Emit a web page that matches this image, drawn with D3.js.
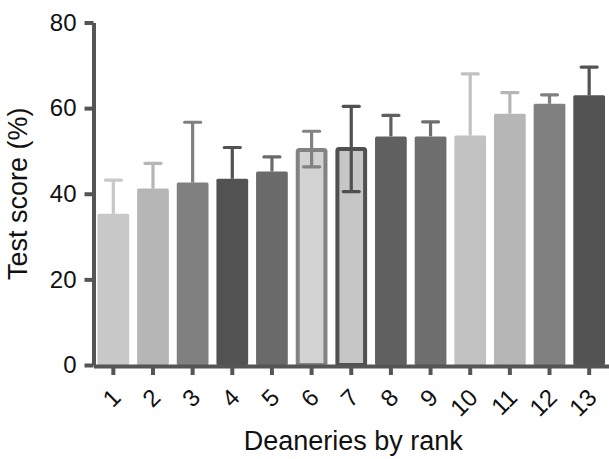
<!DOCTYPE html>
<html>
<head>
<meta charset="utf-8">
<script src="https://cdn.jsdelivr.net/npm/d3@7"></script>
<style>
  body { margin: 0; background: #fff; }
  svg { font-family: "Liberation Sans", Arial, sans-serif; }
</style>
</head>
<body>
<div id="chart"></div>
<script>
const width = 609,
    height = 459,
    margin = { top: 22.5, bottom: 94, left: 93.5, right: 0 };

// data
const ranks = ["1", "2", "3", "4", "5", "6", "7", "8", "9", "10", "11", "12", "13"];
const means = [35.3, 41.2, 42.6, 43.5, 45.2, 50.7, 50.9, 53.4, 53.4, 53.6, 58.7, 61.0, 63.0];
const errUp = [43.2, 47.1, 56.7, 50.8, 48.6, 54.6, 60.4, 58.3, 56.8, 68.0, 63.6, 63.1, 69.6];
const errDown = [null, null, null, null, null, 46.3, 40.5, null, null, null, null, null, null];
const fills = ["#c8c8c8", "#b6b6b6", "#808080", "#525252", "#6a6a6a", "#d2d2d2", "#c6c6c6",
    "#606060", "#6e6e6e", "#c2c2c2", "#b6b6b6", "#808080", "#535353"];
const strokes = [null, null, null, null, null, "#828282", "#505050", null, null, null, null, null, null];
const yTicks = [0, 20, 40, 60, 80];

const axisColor = "#555555";

const svg = d3.select("#chart")
    .append("svg")
    .attr("width", width)
    .attr("height", height);

const x = d3.scaleBand()
    .domain(ranks)
    .range([margin.left, width - margin.right])
    .paddingInner(0.2)
    .paddingOuter(0.1);

const y = d3.scaleLinear()
    .domain([0, 80])
    .range([height - margin.bottom, margin.top]);

const rows = ranks.map((r, i) => ({
    rank: r, mean: means[i], up: errUp[i], down: errDown[i],
    fill: fills[i], stroke: strokes[i]
}));

// bars (outlined ones are inset by half the stroke)
const sw = 4;
svg.selectAll(".bar")
    .data(rows)
    .join("rect")
    .attr("class", "bar")
    .attr("x", d => x(d.rank) + (d.stroke ? sw / 2 : 0))
    .attr("width", d => x.bandwidth() - (d.stroke ? sw : 0))
    .attr("y", d => y(d.mean) + (d.stroke ? sw / 2 : 0))
    .attr("height", d => y(0) - y(d.mean) - (d.stroke ? sw / 2 : 0))
    .attr("rx", 1.5)
    .attr("fill", d => d.fill)
    .attr("stroke", d => d.stroke || "none")
    .attr("stroke-width", sw);

// error bars
const capW = 16;
const err = svg.selectAll(".err")
    .data(rows)
    .join("g")
    .attr("class", "err")
    .attr("stroke", d => d.stroke || d.fill)
    .attr("stroke-width", 3.2);

err.append("line")
    .attr("x1", d => x(d.rank) + x.bandwidth() / 2)
    .attr("x2", d => x(d.rank) + x.bandwidth() / 2)
    .attr("y1", d => y(d.down != null ? d.down : d.mean))
    .attr("y2", d => y(d.up));

err.append("line")
    .attr("x1", d => x(d.rank) + x.bandwidth() / 2 - capW / 2)
    .attr("x2", d => x(d.rank) + x.bandwidth() / 2 + capW / 2)
    .attr("y1", d => y(d.up))
    .attr("y2", d => y(d.up))
    .attr("stroke-linecap", "round");

err.filter(d => d.down != null)
    .append("line")
    .attr("x1", d => x(d.rank) + x.bandwidth() / 2 - capW / 2)
    .attr("x2", d => x(d.rank) + x.bandwidth() / 2 + capW / 2)
    .attr("y1", d => y(d.down))
    .attr("y2", d => y(d.down))
    .attr("stroke-linecap", "round");

// y axis
const yAxis = svg.append("g")
    .attr("transform", `translate(${margin.left},0)`)
    .call(d3.axisLeft(y).tickValues(yTicks).tickSize(9).tickSizeOuter(0).tickPadding(8));

// x axis
const xAxis = svg.append("g")
    .attr("transform", `translate(0,${y(0) + 1})`)
    .call(d3.axisBottom(x).tickSize(9).tickSizeOuter(0));

[yAxis, xAxis].forEach(a => {
    a.select(".domain").attr("stroke", axisColor).attr("stroke-width", 4);
    a.selectAll(".tick line").attr("stroke", axisColor).attr("stroke-width", 4);
});

yAxis.selectAll(".tick text")
    .attr("fill", "#111")
    .style("font-size", "24px");

xAxis.selectAll(".tick text")
    .attr("fill", "#111")
    .style("font-size", "24px")
    .attr("text-anchor", "end")
    .attr("dy", "0.35em")
    .attr("y", 0)
    .attr("transform", "translate(3,27) rotate(-45)");

// axis titles
svg.append("text")
    .attr("x", (margin.left + width - margin.right) / 2 + 2)
    .attr("y", 450)
    .attr("text-anchor", "middle")
    .attr("fill", "#111")
    .style("font-size", "27px")
    .text("Deaneries by rank");

svg.append("text")
    .attr("transform", `translate(27,${(y(0) + y(80)) / 2}) rotate(-90)`)
    .attr("text-anchor", "middle")
    .attr("fill", "#111")
    .style("font-size", "27px")
    .text("Test score (%)");
</script>
</body>
</html>
